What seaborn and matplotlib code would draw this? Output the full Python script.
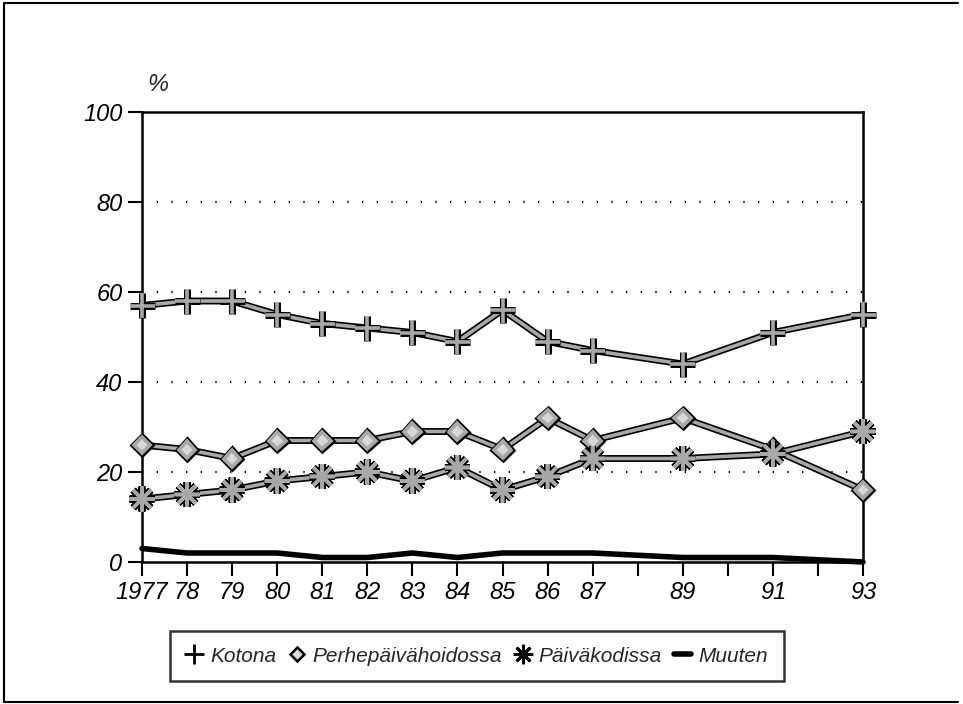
import matplotlib
matplotlib.use("Agg")
import matplotlib.pyplot as plt
import matplotlib.patheffects as pe
from matplotlib.lines import Line2D
import seaborn as sns
import pandas as pd

years = [1977, 1978, 1979, 1980, 1981, 1982, 1983, 1984, 1985, 1986, 1987, 1989, 1991, 1993]
kotona = [57, 58, 58, 55, 53, 52, 51, 49, 56, 49, 47, 44, 51, 55]
perhe = [26, 25, 23, 27, 27, 27, 29, 29, 25, 32, 27, 32, 25, 16]
paivakoti = [14, 15, 16, 18, 19, 20, 18, 21, 16, 19, 23, 23, 24, 29]
muuten = [3, 2, 2, 2, 1, 1, 2, 1, 2, 2, 2, 1, 1, 0]
series_names = ["Kotona", "Perhepäivähoidossa", "Päiväkodissa", "Muuten"]
tick_years = list(range(1977, 1994))
tick_labels = ["1977", "78", "79", "80", "81", "82", "83", "84", "85", "86", "87", "", "89", "", "91", "", "93"]
y_ticks = [0, 20, 40, 60, 80, 100]

sns.set_theme(style="white")
plt.rcParams["font.family"] = ["Liberation Sans", "DejaVu Sans"]
plt.rcParams["font.style"] = "italic"

fig = plt.figure(figsize=(9.63, 7.04), dpi=100)
ax = fig.add_axes([142/963, 1-562/704, (863-142)/963, (562-112)/704])

df = pd.DataFrame({"year": years, "Kotona": kotona, "Perhepäivähoidossa": perhe,
                   "Päiväkodissa": paivakoti, "Muuten": muuten})

band = [pe.Stroke(linewidth=5.0, foreground="black"), pe.Stroke(linewidth=2.6, foreground="#a8a8a8")]

styles = {
    "Kotona": dict(marker="+", markersize=18, mew=2.0, mec="black", mfc="black"),
    "Perhepäivähoidossa": dict(marker="D", markersize=8.5, mew=1.8, mec="black", mfc="#d8d8d8"),
    "Päiväkodissa": dict(marker=(8, 2, 0), markersize=18, mew=2.0, mec="black", mfc="black"),
}

for name in series_names[:3]:
    sns.lineplot(data=df, x="year", y=name, ax=ax, color="#a8a8a8", linewidth=2.6,
                 clip_on=False, zorder=3, **styles[name])
    ln = ax.lines[-1]
    ln.set_path_effects(band)

sns.lineplot(data=df, x="year", y="Muuten", ax=ax, color="black", linewidth=4, clip_on=False, zorder=3)

ax.set_xlim(1977, 1993)
ax.set_ylim(0, 100)
ax.set_xticks(tick_years)
ax.set_xticklabels(tick_labels)
ax.set_yticks(y_ticks)
ax.set_xlabel("")
ax.set_ylabel("")
for s in ax.spines.values():
    s.set_color("black")
    s.set_linewidth(1.8)
ax.tick_params(axis="both", which="major", direction="out", length=10, width=1.5,
               color="black", labelsize=17, labelcolor="black", bottom=True, left=True, pad=4)
for lab in ax.get_xticklabels() + ax.get_yticklabels():
    lab.set_fontstyle("italic")
for yv in y_ticks[1:-1]:
    ax.axhline(yv, color="black", linewidth=1.6, linestyle=(0, (0.6, 6)), zorder=1)

ax.text(0.008, 1.035, "%", transform=ax.transAxes, fontsize=17, fontstyle="italic", ha="left", va="bottom")

handles = [
    Line2D([], [], color="black", linestyle="none", **styles["Kotona"]),
    Line2D([], [], color="black", linestyle="none", **styles["Perhepäivähoidossa"]),
    Line2D([], [], color="black", linestyle="none", **styles["Päiväkodissa"]),
    Line2D([], [], color="black", linewidth=4),
]
handles[0].set_markersize(14)
handles[1].set_markersize(7)
handles[2].set_markersize(14)
leg = fig.legend(handles, series_names, loc="center", bbox_to_anchor=(477/963, 1-656/704), ncol=4,
                 frameon=True, fancybox=False, edgecolor="black",
                 handlelength=0.8, handletextpad=0.35, columnspacing=0.6, borderpad=0.75,
                 prop={"style": "italic", "size": 15})
leg.get_frame().set_linewidth(1.8)

# outer frame
fig.add_artist(Line2D([4/963, 4/963], [1-3/704, 1-702/704], color="black", linewidth=1.5, transform=fig.transFigure))
fig.add_artist(Line2D([4/963, 958/963], [1-3/704, 1-3/704], color="black", linewidth=1.5, transform=fig.transFigure))
fig.add_artist(Line2D([4/963, 958/963], [1-702/704, 1-702/704], color="black", linewidth=1.5, transform=fig.transFigure))

fig.savefig("out.png", dpi=100, facecolor="white")
